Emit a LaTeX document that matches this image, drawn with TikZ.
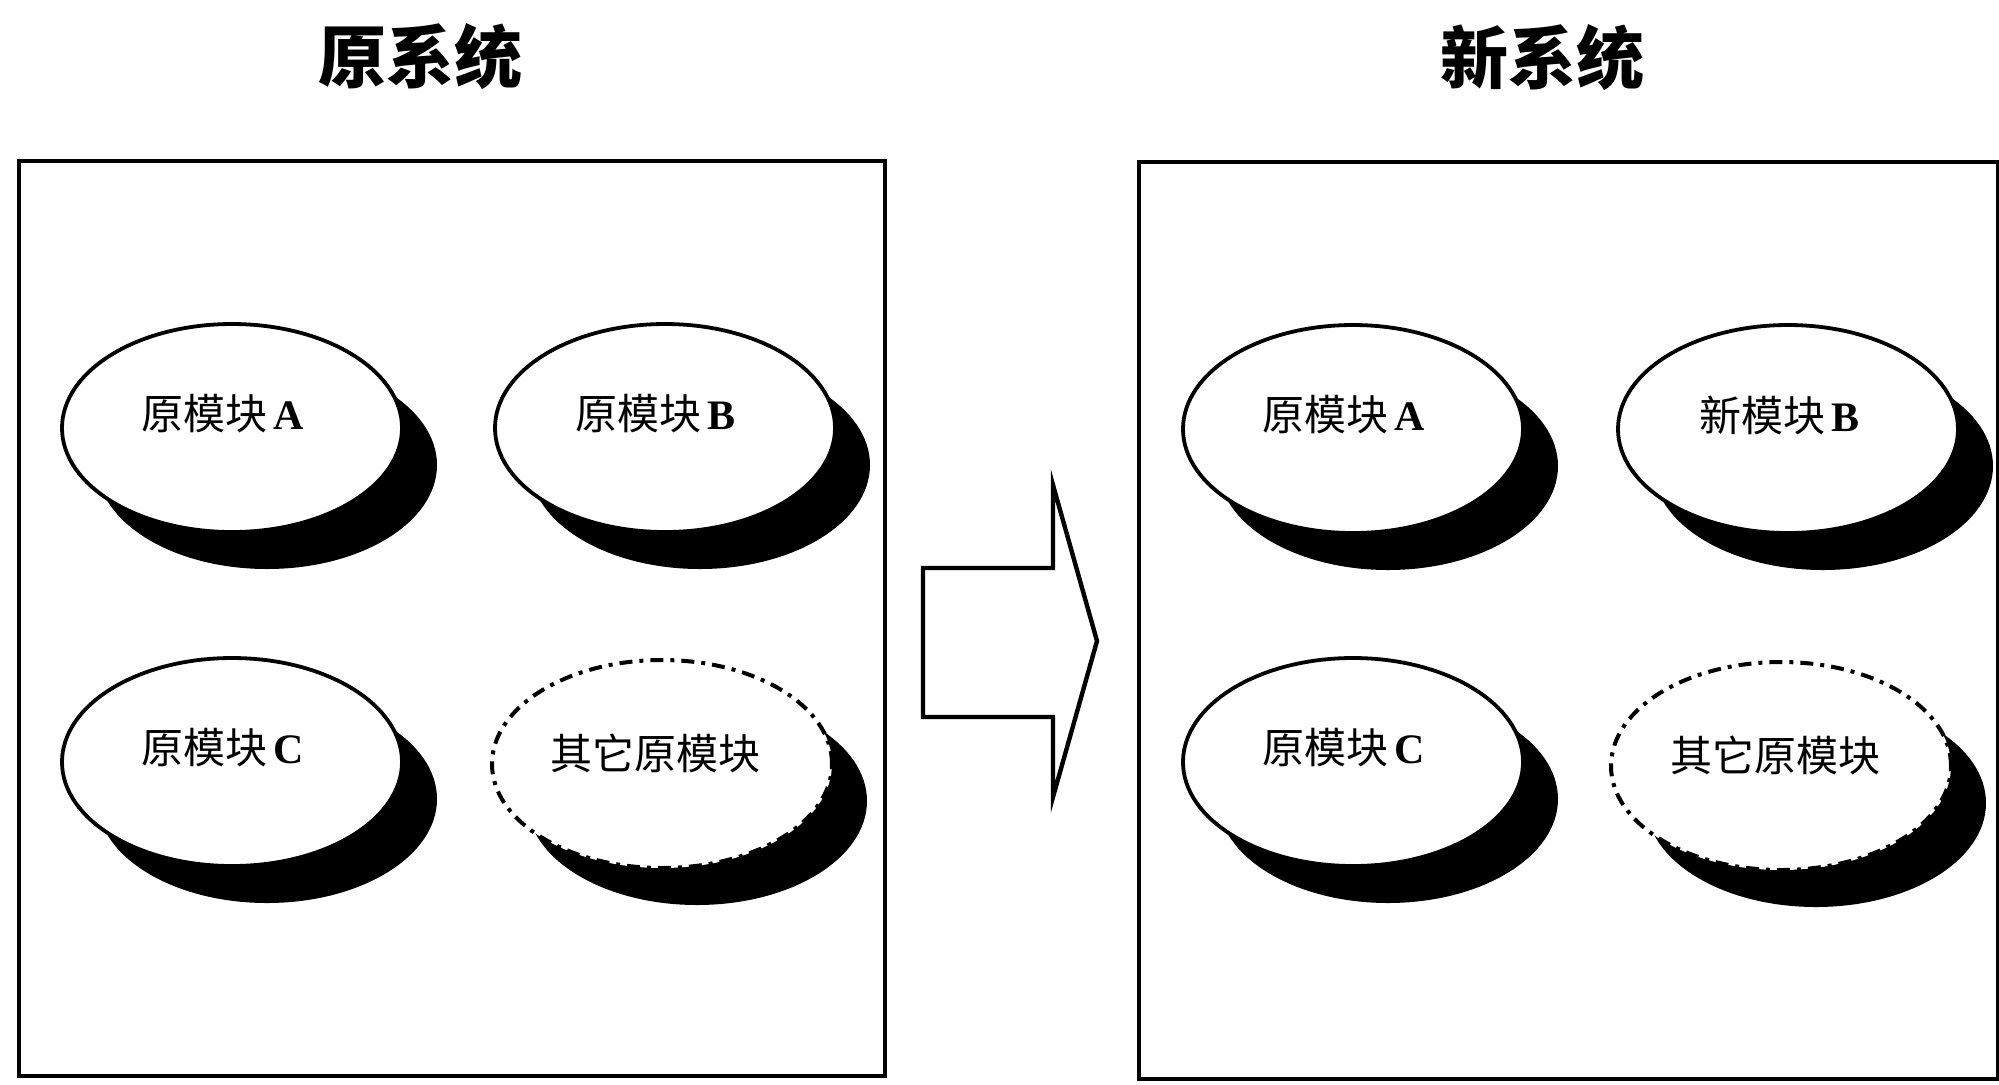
\documentclass[tikz,border=0pt]{standalone}
\usepackage{fontspec}
\setmainfont{Liberation Serif}
\newfontfamily\cjk{Noto Sans CJK SC}
\usetikzlibrary{shapes.geometric,shadows}
\begin{document}
\begin{tikzpicture}[x=0.5pt,y=-0.5pt,
  sysbox/.style={draw=black, line width=2.2pt},
  module/.style={ellipse, draw=black, line width=1.9pt, fill=white,
    minimum width=170pt, minimum height=104pt, inner sep=0pt,
    drop shadow={shadow xshift=17.5pt, shadow yshift=-18.5pt, fill=black, opacity=1}},
  othermod/.style={module, line width=2pt, dash pattern=on 6.5pt off 3.5pt on 2pt off 3.5pt},
  lbl/.style={font=\fontsize{21pt}{21pt}\selectfont, inner sep=0pt},
  titletext/.style={font=\cjk\bfseries\fontsize{34pt}{34pt}\selectfont, inner sep=0pt},
  bigarrow/.style={draw=black, line width=2.2pt, line join=miter, fill=white}]
\useasboundingbox (0,0) rectangle (1999,1084);
\fill[white] (0,0) rectangle (1999,1084);

% titles
\node[titletext] (t1) at (420,57) {原系统};
\node[titletext] (t2) at (1542,58) {新系统};

% system boxes
\draw[sysbox] (19,161) rectangle (885,1076);
\draw[sysbox] (1139,162) rectangle (1998,1079);

% left system modules
\node[module] (la) at (232,428) {};
\node[module] (lb) at (665,428) {};
\node[module] (lc) at (232,762) {};
\node[othermod] (lo) at (662,764) {};

\node[lbl] (la-t) at ([shift={(-9,-14)}]la.center) {{\cjk 原模块}\hspace{3pt}\textbf{A}};
\node[lbl] (lb-t) at ([shift={(-9,-14)}]lb.center) {{\cjk 原模块}\hspace{3pt}\textbf{B}};
\node[lbl] (lc-t) at ([shift={(-9,-14)}]lc.center) {{\cjk 原模块}\hspace{3pt}\textbf{C}};
\node[lbl] (lo-t) at ([shift={(-7,-11)}]lo.center) {\cjk 其它原模块};

% right system modules
\node[module] (ra) at (1353,429) {};
\node[module] (rb) at (1788,429) {};
\node[module] (rc) at (1353,762) {};
\node[othermod] (ro) at (1781,766) {};

\node[lbl] (ra-t) at ([shift={(-9,-14)}]ra.center) {{\cjk 原模块}\hspace{3pt}\textbf{A}};
\node[lbl] (rb-t) at ([shift={(-9,-14)}]rb.center) {{\cjk 新模块}\hspace{3pt}\textbf{B}};
\node[lbl] (rc-t) at ([shift={(-9,-14)}]rc.center) {{\cjk 原模块}\hspace{3pt}\textbf{C}};
\node[lbl] (ro-t) at ([shift={(-6,-11)}]ro.center) {\cjk 其它原模块};

% big transition arrow
\draw[bigarrow] (923,568) -- (1053,568) -- (1053,485) -- (1097,641)
  -- (1053,797) -- (1053,717) -- (923,717) -- cycle;
\end{tikzpicture}
\end{document}
